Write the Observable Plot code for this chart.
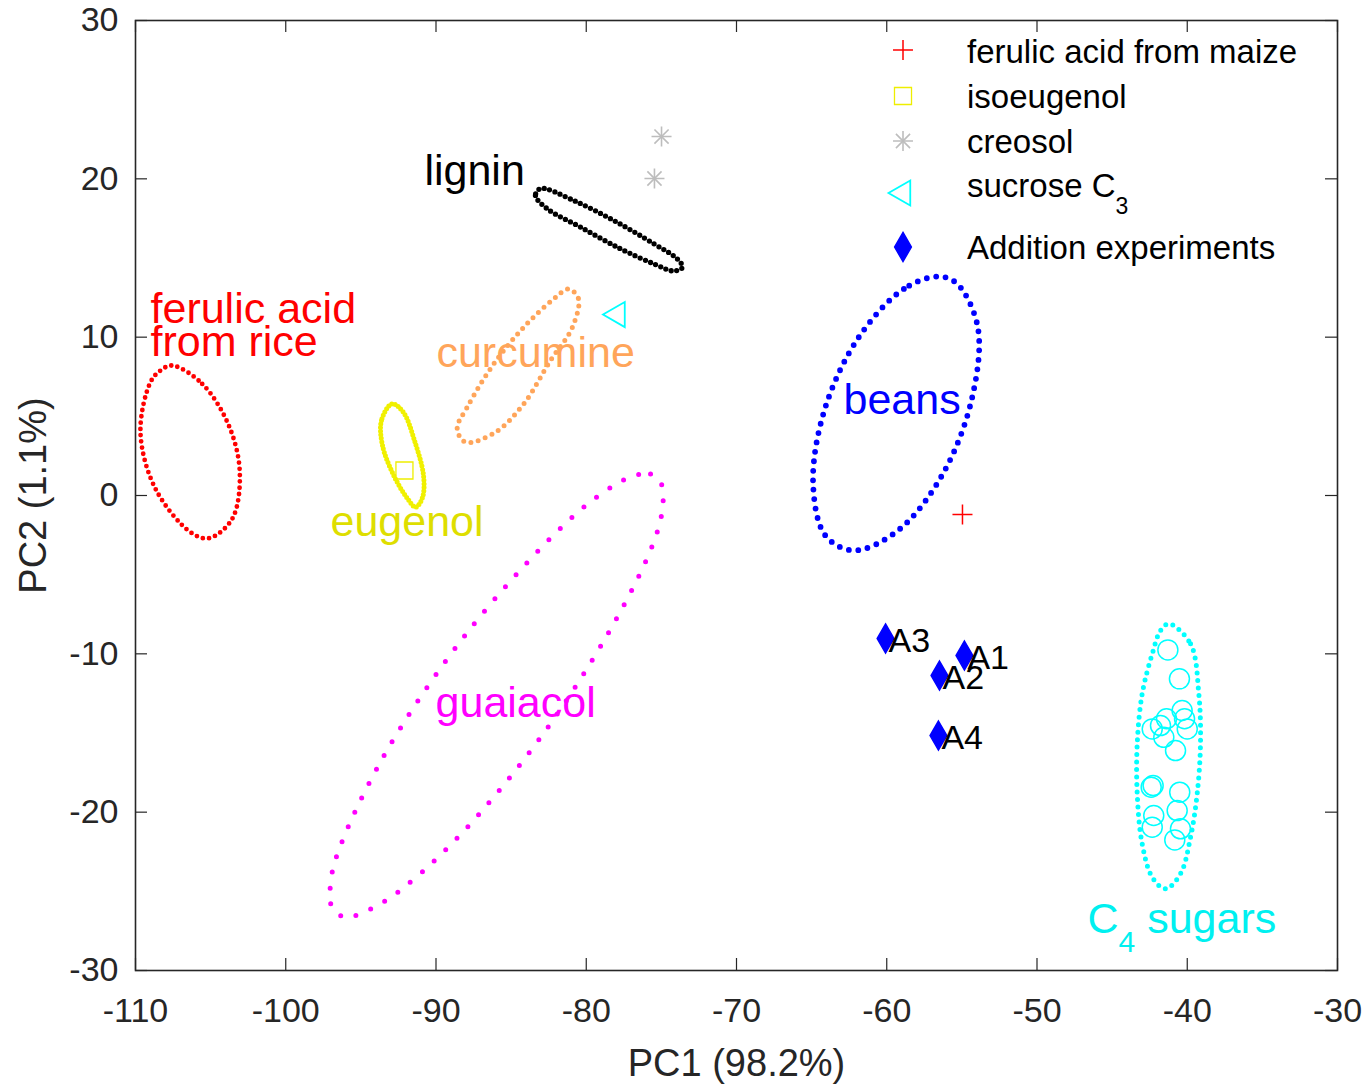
<!DOCTYPE html>
<html><head><meta charset="utf-8">
<script src="https://cdn.jsdelivr.net/npm/d3@7"></script>
<script src="https://cdn.jsdelivr.net/npm/@observablehq/plot@0.6"></script>
<style>
body{margin:0;background:#fff;}
#chart{position:relative;width:1367px;height:1085px;}
#legend{position:absolute;left:0;top:0;pointer-events:none;}
</style></head><body>
<div id="chart"></div>
<script>
// ---- axis ticks ----
const xTicks = [-110,-100,-90,-80,-70,-60,-50,-40,-30];
const yTicks = [-30,-20,-10,0,10,20,30];

// ---- confidence-ellipse outlines ----
const riceX = [-107.56,-105.56,-103.79,-103.06,-103.56,-105.12,-106.34,-108.67,-109.67,-109.0,-108.34];
const riceY = [8.21,7.05,4.42,1.47,-1.47,-2.70,-2.32,0.42,4.0,7.16,7.89];
const eugenolX = [-92.92,-93.63,-93.56,-92.81,-91.90,-91.36,-90.90,-90.83,-91.43,-92.16];
const eugenolY = [5.79,4.74,3.16,1.26,-0.19,-0.74,-0.13,1.26,3.47,5.24];
const curcX = [-81.18,-80.52,-80.92,-82.38,-84.16,-86.04,-88.04,-88.59,-87.92,-86.15,-84.16,-82.16];
const curcY = [13.04,12.44,10.63,8.53,5.79,4.0,3.37,4.23,5.58,8.32,10.63,12.42];
const ligninX = [-83.04,-83.38,-82.60,-80.38,-77.72,-75.50,-74.17,-73.59,-73.95,-75.50,-78.17,-80.83];
const ligninY = [19.39,18.95,18.11,16.95,15.58,14.63,14.18,14.42,14.95,15.90,17.37,18.63];
const guaiX = [-77.05,-75.72,-75.02,-74.88,-75.28,-77.39,-82.43,-88.59,-93.03,-95.02,-96.02,-96.89,-97.05,-96.74,-93.58,-88.04,-81.87,-79.16];
const guaiY = [1.16,1.36,0.76,-0.32,-2.32,-6.74,-14.48,-21.64,-25.39,-26.40,-26.65,-26.08,-25.14,-23.16,-16.63,-8.80,-2.21,0.0];
const beansX = [-56.54,-58.86,-61.86,-64.14,-64.90,-64.08,-62.19,-59.20,-56.24,-54.31,-53.94,-55.31];
const beansY = [13.83,13.05,10.0,5.41,0.74,-2.53,-3.47,-2.17,1.41,6.21,10.63,13.37];
const c4X = [-41.23,-39.78,-39.23,-39.12,-39.34,-39.78,-40.45,-41.45,-42.33,-43.0,-43.33,-43.33,-43.0,-42.33,-41.78];
const c4Y = [-8.10,-9.37,-12.53,-15.68,-18.84,-21.58,-23.89,-24.84,-24.11,-22.0,-18.84,-15.68,-12.53,-10.0,-8.53];

// ---- individual samples ----
const c4SugarX = [-41.29,-40.52,-40.34,-40.18,-41.38,-42.33,-41.78,-40.0,-41.56,-40.78,-42.27,-42.40,-40.50,-40.67,-42.23,-42.33,-40.45,-40.83];
const c4SugarY = [-9.75,-11.58,-13.58,-14.10,-14.10,-14.74,-14.53,-14.74,-15.27,-16.11,-18.32,-18.42,-18.74,-19.90,-20.21,-20.95,-21.05,-21.75];
const maizeX = [-54.96], maizeY = [-1.20];
const isoeugenolX = [-92.10], isoeugenolY = [1.58];
const creosolX = [-74.99,-75.46], creosolY = [22.67,20.02];
const sucroseX = [-77.92], sucroseY = [11.43];
const addNames = ["A1","A2","A3","A4"];
const addX = [-54.83,-56.49,-60.08,-56.56];
const addY = [-10.11,-11.37,-9.03,-15.16];

// ---- group labels ----
const labelText = ["ferulic acid\nfrom rice","lignin","curcumine","eugenol","guaiacol","beans","C4 sugars"];
const labelX = [-109.0,-90.77,-89.97,-97.02,-90.03,-62.88,-46.64];
const labelY = [10.50,20.26,8.77,-1.91,-13.34,5.8,-26.98];
const labelColor = ["#FF0000","#000000","#FFA55A","#DEDE00","#FF00FF","#0000FF","#00F0F0"];

const legendLabels = ["ferulic acid from maize","isoeugenol","creosol","sucrose C3","Addition experiments"];

const pts = (X, Y) => X.map((x, i) => ({x, y: Y[i]}));
const ellipse = (X, Y, color, w, gap) => Plot.line(pts(X, Y), {
  x: "x", y: "y", curve: "catmull-rom-closed", stroke: color,
  strokeWidth: w, strokeDasharray: `0 ${gap}`, strokeLinecap: "round"
});

const W = 1367, H = 1085, mL = 135, mR = 30, mT = 20, mB = 115;
const pw = W - mL - mR, ph = H - mT - mB;
const axisColor = "#262626";

const labels = labelText.map((t, i) => ({t, x: labelX[i], y: labelY[i], c: labelColor[i]}));
const adds = addNames.map((n, i) => ({n, x: addX[i], y: addY[i]}));

const chart = Plot.plot({
  width: W, height: H,
  marginLeft: mL, marginRight: mR, marginTop: mT, marginBottom: mB,
  x: {domain: [-110, -30]},
  y: {domain: [-30, 30]},
  style: {fontFamily: "'Liberation Sans', Arial, sans-serif", background: "white", color: axisColor, overflow: "visible"},
  marks: [
    Plot.axisX(xTicks, {tickSize: 0, tickPadding: 27, fontSize: 34, tickFormat: d => String(d), label: null, fill: axisColor}),
    Plot.axisY(yTicks, {tickSize: 0, tickPadding: 17, fontSize: 34, tickFormat: d => String(d), label: null, fill: axisColor}),
    Plot.tickX(xTicks, {x: d => d, insetTop: ph - 12, stroke: axisColor, strokeWidth: 1.2}),
    Plot.tickX(xTicks, {x: d => d, insetBottom: ph - 12, stroke: axisColor, strokeWidth: 1.2}),
    Plot.tickY(yTicks, {y: d => d, insetRight: pw - 12, stroke: axisColor, strokeWidth: 1.2}),
    Plot.tickY(yTicks, {y: d => d, insetLeft: pw - 12, stroke: axisColor, strokeWidth: 1.2}),
    Plot.frame({stroke: axisColor, strokeWidth: 1.6}),
    Plot.text(["PC1 (98.2%)"], {frameAnchor: "bottom", dy: 93, textAnchor: "middle", lineAnchor: "middle", fontSize: 38, fill: axisColor}),
    Plot.text(["PC2 (1.1%)"], {frameAnchor: "left", dx: -102, rotate: -90, textAnchor: "middle", lineAnchor: "middle", fontSize: 38, fill: axisColor}),

    ellipse(riceX, riceY, "#FF0000", 4.8, 6.3),
    ellipse(eugenolX, eugenolY, "#F0F000", 5, 3.6),
    ellipse(curcX, curcY, "#FFA55A", 5, 7.5),
    ellipse(ligninX, ligninY, "#000000", 5.3, 5.6),
    ellipse(guaiX, guaiY, "#FF00FF", 5, 16),
    ellipse(beansX, beansY, "#0000FF", 5.8, 9.5),
    ellipse(c4X, c4Y, "#00FFFF", 5, 7.5),

    Plot.dot(pts(c4SugarX, c4SugarY), {x: "x", y: "y", r: 10, fill: "none", stroke: "#00FFFF", strokeWidth: 1.5}),
    Plot.dot(pts(maizeX, maizeY), {x: "x", y: "y", symbol: "plus", r: 6.5, stroke: "#FF0000", strokeWidth: 1.5}),
    Plot.dot(pts(isoeugenolX, isoeugenolY), {x: "x", y: "y", symbol: "square", r: 9.6, fill: "none", stroke: "#EEEE00", strokeWidth: 1.3}),
    Plot.dot(pts(creosolX, creosolY), {x: "x", y: "y", symbol: "plus", r: 6.5, stroke: "#BDBDBD", strokeWidth: 1.6}),
    Plot.dot(pts(creosolX, creosolY), {x: "x", y: "y", symbol: "times", r: 6.5, stroke: "#BDBDBD", strokeWidth: 1.6}),
    Plot.dot(pts(sucroseX, sucroseY), {x: "x", y: "y", symbol: "triangle2", rotate: -90, r: 12, stroke: "#00FFFF", strokeWidth: 1.8, fill: "none"}),
    Plot.dot(adds, {x: "x", y: "y", symbol: "diamond", r: 8.8, fill: "#0000FF", stroke: "#0000FF", strokeWidth: 1.5}),
    Plot.text(adds, {x: "x", y: "y", text: "n", dx: 3, dy: 3, textAnchor: "start", fontSize: 34, fill: "#000"}),

    Plot.text(labels, {x: "x", y: "y", text: "t", fill: "c", textAnchor: "start", fontSize: 43, lineHeight: 0.75})
  ]
});
document.getElementById("chart").appendChild(chart);

// subscript in "C4 sugars"
d3.select(chart).selectAll("text").each(function() {
  if (this.textContent === "C4 sugars") {
    const t = d3.select(this);
    t.text(null);
    t.append("tspan").text("C");
    t.append("tspan").text("4").attr("font-size", 30).attr("dy", 19);
    t.append("tspan").text(" sugars").attr("dy", -19);
  }
});

// ---- legend (inside the axes, top right) ----
const lg = d3.select("#chart").append("svg").attr("id", "legend").attr("width", W).attr("height", H)
  .style("font-family", "'Liberation Sans', Arial, sans-serif");
const mx = 903, tx = 967;
const rowY = [50, 96, 141, 193, 247];
const baseY = [63, 108, 153, 197, 259];
const sym = (type, size) => d3.symbol(type, size)();
lg.append("path").attr("d", sym(d3.symbolPlus, 132)).attr("transform", `translate(${mx},${rowY[0]})`).attr("fill", "none").attr("stroke", "#FF0000").attr("stroke-width", 1.5);
lg.append("path").attr("d", sym(d3.symbolSquare, 290)).attr("transform", `translate(${mx},${rowY[1]})`).attr("fill", "none").attr("stroke", "#EEEE00").attr("stroke-width", 1.3);
lg.append("path").attr("d", sym(d3.symbolPlus, 132)).attr("transform", `translate(${mx},${rowY[2]})`).attr("fill", "none").attr("stroke", "#BDBDBD").attr("stroke-width", 1.6);
lg.append("path").attr("d", sym(d3.symbolTimes, 132)).attr("transform", `translate(${mx},${rowY[2]})`).attr("fill", "none").attr("stroke", "#BDBDBD").attr("stroke-width", 1.6);
lg.append("path").attr("d", sym(d3.symbolTriangle2, 452)).attr("transform", `translate(${mx},${rowY[3]}) rotate(-90)`).attr("fill", "none").attr("stroke", "#00FFFF").attr("stroke-width", 1.8);
lg.append("path").attr("d", sym(d3.symbolDiamond, 243)).attr("transform", `translate(${mx},${rowY[4]})`).attr("fill", "#0000FF").attr("stroke", "#0000FF").attr("stroke-width", 1.5);
legendLabels.forEach((s, i) => {
  const t = lg.append("text").attr("x", tx).attr("y", baseY[i]).attr("font-size", 33).attr("fill", "#000");
  if (s === "sucrose C3") {
    t.append("tspan").text("sucrose C");
    t.append("tspan").text("3").attr("font-size", 23).attr("dy", 17);
  } else {
    t.text(s);
  }
});
</script>
</body></html>
